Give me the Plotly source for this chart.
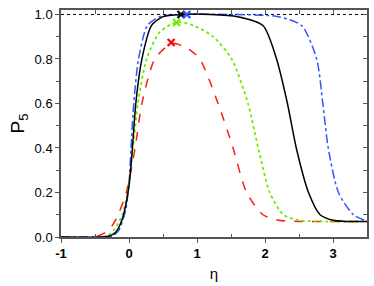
import plotly.graph_objects as go

# Black solid
bx = [-1, -0.4, -0.3, -0.2, -0.1, 0.0, 0.05, 0.1, 0.19, 0.33, 0.5, 0.78, 1.2, 1.6, 1.97, 2.17, 2.33, 2.46, 2.64, 2.81, 3.0, 3.2, 3.5]
by = [0, 0, 0.003, 0.02, 0.08, 0.23, 0.4, 0.6, 0.8, 0.95, 0.99, 1.0, 1.0, 0.99, 0.95, 0.8, 0.6, 0.4, 0.2, 0.1, 0.075, 0.07, 0.07]
# Blue dash-dot
ux = [-1, -0.4, -0.25, -0.15, -0.05, 0.0, 0.03, 0.07, 0.14, 0.27, 0.45, 0.83, 1.5, 2.2, 2.54, 2.76, 2.85, 2.93, 3.08, 3.3, 3.5]
uy = [0, 0, 0.003, 0.03, 0.12, 0.24, 0.4, 0.6, 0.8, 0.95, 0.99, 1.0, 1.0, 0.99, 0.95, 0.8, 0.6, 0.4, 0.2, 0.1, 0.072]
# Green dotted
gx = [-1, -0.4, -0.3, -0.2, -0.1, -0.02, 0.06, 0.13, 0.26, 0.45, 0.70, 0.95, 1.24, 1.51, 1.75, 1.9, 2.07, 2.27, 2.5, 2.8, 3.5]
gy = [0, 0, 0.01, 0.04, 0.1, 0.2, 0.4, 0.6, 0.8, 0.92, 0.965, 0.95, 0.9, 0.8, 0.6, 0.4, 0.2, 0.1, 0.075, 0.07, 0.07]
# Red dashed
rx = [-1, -0.5, -0.35, -0.25, -0.16, -0.04, 0.09, 0.19, 0.38, 0.63, 0.85, 1.04, 1.31, 1.53, 1.73, 1.97, 2.2, 2.5, 3.5]
ry = [0, 0, 0.02, 0.05, 0.1, 0.2, 0.4, 0.6, 0.8, 0.87, 0.85, 0.8, 0.6, 0.4, 0.2, 0.1, 0.075, 0.07, 0.07]

# Peak markers
peak_x = [0.765, 0.85, 0.70, 0.62]
peak_y = [1.0, 1.0, 0.964, 0.874]
peak_colors = ["#000000", "#3355ff", "#66ee00", "#ff0000"]

ref_x = [-1, 3.5]
ref_y = [1.0, 1.0]

fig = go.Figure()
fig.add_trace(go.Scatter(x=ref_x, y=ref_y, mode="lines",
                         line=dict(color="black", width=1, dash="dot"), showlegend=False))
fig.add_trace(go.Scatter(x=rx, y=ry, mode="lines", line=dict(color="#ff1a1a", width=1.5, dash="dash", shape="spline", smoothing=0.7), showlegend=False))
fig.add_trace(go.Scatter(x=gx, y=gy, mode="lines", line=dict(color="#66ee00", width=1.8, dash="dot", shape="spline", smoothing=0.7), showlegend=False))
fig.add_trace(go.Scatter(x=ux, y=uy, mode="lines", line=dict(color="#3355ff", width=1.5, dash="dashdot", shape="spline", smoothing=0.7), showlegend=False))
fig.add_trace(go.Scatter(x=bx, y=by, mode="lines", line=dict(color="black", width=1.5, shape="spline", smoothing=0.7), showlegend=False))
fig.add_trace(go.Scatter(x=peak_x, y=peak_y, mode="markers",
                         marker=dict(symbol="x-thin", size=7, line=dict(width=2.2, color=peak_colors)),
                         showlegend=False))

axcol = "#555555"
font = "Liberation Sans, Arial, sans-serif"
fig.update_layout(
    width=374, height=286,
    margin=dict(l=61, r=7, t=10, b=49),
    paper_bgcolor="white", plot_bgcolor="white",
    font=dict(family=font, color="black"),
    xaxis=dict(range=[-1, 3.5], tickvals=[-1, 0, 1, 2, 3], ticktext=["-1", "0", "1", "2", "3"],
               automargin=False,
               ticks="outside", ticklen=4, tickwidth=1, tickcolor=axcol,
               showline=True, linecolor=axcol, linewidth=1.5, mirror=True,
               showgrid=False, zeroline=False,
               minor=dict(tickvals=[-0.5, 0.5, 1.5, 2.5], ticks="inside", ticklen=3, tickcolor=axcol),
               tickfont=dict(size=13, weight="bold"),
               title=dict(text="η", font=dict(size=15), standoff=8)),
    yaxis=dict(range=[0, 1.02], tickvals=[0, 0.2, 0.4, 0.6, 0.8, 1.0],
               ticktext=["0.0", "0.2", "0.4", "0.6", "0.8", "1.0"],
               automargin=False,
               ticks="outside", ticklen=4, tickwidth=1, tickcolor=axcol,
               showline=True, linecolor=axcol, linewidth=1.5, mirror=True,
               showgrid=False, zeroline=False,
               minor=dict(tickvals=[0.1, 0.3, 0.5, 0.7, 0.9], ticks="outside", ticklen=3, tickcolor=axcol),
               tickfont=dict(size=13),
               title=dict(text="P<sub>5</sub>", font=dict(size=19), standoff=5)),
    xaxis2=dict(overlaying="x", side="top", range=[-1, 3.5], tickvals=[-1, -0.5, 0, 0.5, 1, 1.5, 2, 2.5, 3],
                automargin=False,
                ticks="inside", ticklen=4, tickcolor=axcol, showticklabels=False, showgrid=False, zeroline=False),
    yaxis2=dict(overlaying="y", side="right", range=[0, 1.02],
                automargin=False,
                tickvals=[0, 0.1, 0.2, 0.3, 0.4, 0.5, 0.6, 0.7, 0.8, 0.9, 1.0],
                ticks="inside", ticklen=4, tickcolor=axcol, showticklabels=False, showgrid=False, zeroline=False),
)
# invisible trace to activate overlay axes
fig.add_trace(go.Scatter(x=ref_x, y=ref_y, xaxis="x2", yaxis="y2", mode="lines",
                         line=dict(width=0), hoverinfo="skip", showlegend=False))

fig.write_html("out.html", config={"displayModeBar": False},
               post_script="document.body.style.margin='0px';")
